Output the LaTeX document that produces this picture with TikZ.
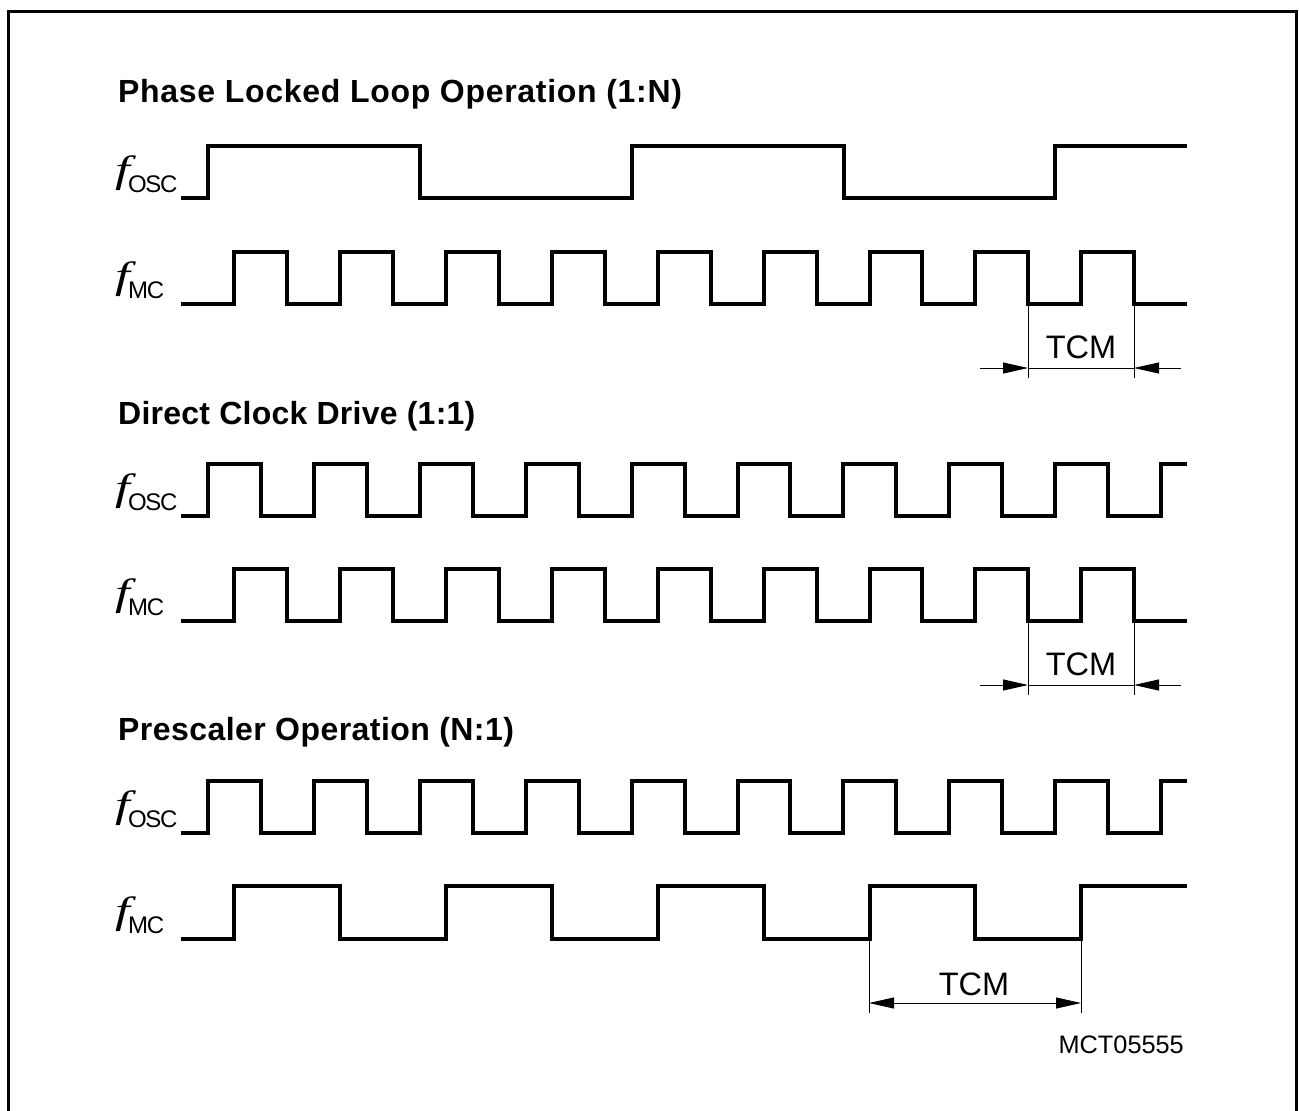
\documentclass[tikz,border=0pt]{standalone}
\usepackage{fontspec}
\usepackage{graphicx}
\setmainfont{Liberation Sans}
\newfontfamily\serifit[ItalicFont={Liberation Serif Italic}]{Liberation Serif}
\usetikzlibrary{arrows.meta}
\newcommand{\freqlabel}[1]{\makebox[15pt][l]{\hspace{2pt}\scalebox{1.4}[1]{\fontsize{38}{38}\selectfont\serifit\itshape f}}\raisebox{-10pt}{\fontsize{24}{24}\selectfont\addfontfeature{LetterSpace=-6}#1}}
\newcommand{\headtext}[2]{\addfontfeature{LetterSpace=#1}#2}
\tikzset{
  signal/.style={line width=3.2pt,line join=miter,line cap=butt},
  frameline/.style={line width=3pt},
  dimline/.style={line width=0.9pt,black},
  dimtip/.tip={Triangle[length=25pt,width=11pt]},
  heading/.style={anchor=base west,inner sep=0pt,font=\fontsize{32}{32}\selectfont\bfseries},
  freq/.style={anchor=base west,inner sep=0pt},
  dimtext/.style={anchor=base,inner sep=0pt,font=\fontsize{32.5}{32.5}\selectfont},
  figid/.style={anchor=base east,inner sep=0pt,font=\fontsize{25.3}{25.3}\selectfont}
}
\newcommand{\mcfast}[2]{\draw[signal] (181,#1) \foreach \a/\b in {234/287,340/393,446/499,552/605,658/711,764/817,870/922,975/1028,1081/1134}{ -- (\a,#1) -- (\a,#2) -- (\b,#2) -- (\b,#1)} -- (1187,#1);}
\newcommand{\oscfast}[2]{\draw[signal] (181,#1) \foreach \a/\b in {208/261,314/367,420/473,526/579,632/685,738/790,843/896,949/1002,1055/1108}{ -- (\a,#1) -- (\a,#2) -- (\b,#2) -- (\b,#1)} -- (1161,#1) -- (1161,#2) -- (1187,#2);}
\begin{document}
\begin{tikzpicture}[x=1pt,y=-1pt]
\useasboundingbox (0,0) rectangle (1299,1111);
\fill[white] (0,0) rectangle (1299,1111);
\draw[frameline] (8,1111) -- (8,11) -- (1296,11) -- (1296,1111);

\node[heading] (t1) at (118,102) {\headtext{2.2}{Phase Locked Loop Operation (1:N)}};
\node[heading] (t2) at (118,424) {\headtext{0.8}{Direct Clock Drive (1:1)}};
\node[heading] (t3) at (118,740) {\headtext{1.4}{Prescaler Operation (N:1)}};

\node[freq] (f1) at (113,182) {\freqlabel{OSC}};
\node[freq] (m1) at (113,288) {\freqlabel{MC}};
\node[freq] (f2) at (113,500) {\freqlabel{OSC}};
\node[freq] (m2) at (113,605) {\freqlabel{MC}};
\node[freq] (f3) at (113,817) {\freqlabel{OSC}};
\node[freq] (m3) at (113,923) {\freqlabel{MC}};

% Phase locked loop
\draw[signal] (181,198) -- (208,198) -- (208,146) -- (420,146) -- (420,198) -- (632,198) -- (632,146) -- (844,146) -- (844,198) -- (1055,198) -- (1055,146) -- (1187,146);
\mcfast{304}{252}
% Direct clock drive
\oscfast{516}{464}
\mcfast{621}{569}
% Prescaler
\oscfast{833}{781}
\draw[signal] (181,939) -- (234,939) -- (234,886) -- (340,886) -- (340,939) -- (446,939) -- (446,886) -- (552,886) -- (552,939) -- (658,939) -- (658,886) -- (764,886) -- (764,939) -- (870,939) -- (870,886) -- (975,886) -- (975,939) -- (1081,939) -- (1081,886) -- (1187,886);

% TCM dimension 1
\coordinate (a1t) at (1028,306); \coordinate (a1b) at (1028,378);
\coordinate (b1t) at (1134,306); \coordinate (b1b) at (1134,378);
\coordinate (a1m) at (1028,368); \coordinate (b1m) at (1134,368);
\coordinate (a1o) at (980,368);  \coordinate (b1o) at (1181,368);
\draw[dimline] (a1t) -- (a1b);
\draw[dimline] (b1t) -- (b1b);
\draw[dimline] (a1m) -- (b1m);
\draw[dimline,-dimtip] (a1o) -- (a1m);
\draw[dimline,-dimtip] (b1o) -- (b1m);
\node[dimtext] (tcm1) at (1081,358) {TCM};

% TCM dimension 2
\coordinate (a2t) at (1028,623); \coordinate (a2b) at (1028,695);
\coordinate (b2t) at (1134,623); \coordinate (b2b) at (1134,695);
\coordinate (a2m) at (1028,685); \coordinate (b2m) at (1134,685);
\coordinate (a2o) at (980,685);  \coordinate (b2o) at (1181,685);
\draw[dimline] (a2t) -- (a2b);
\draw[dimline] (b2t) -- (b2b);
\draw[dimline] (a2m) -- (b2m);
\draw[dimline,-dimtip] (a2o) -- (a2m);
\draw[dimline,-dimtip] (b2o) -- (b2m);
\node[dimtext] (tcm2) at (1081,675) {TCM};

% TCM dimension 3
\coordinate (a3t) at (869,941); \coordinate (a3b) at (869,1013);
\coordinate (b3t) at (1081,941); \coordinate (b3b) at (1081,1013);
\coordinate (a3m) at (869,1003); \coordinate (b3m) at (1081,1003);
\draw[dimline] (a3t) -- (a3b);
\draw[dimline] (b3t) -- (b3b);
\draw[dimline,dimtip-dimtip] (a3m) -- (b3m);
\node[dimtext] (tcm3) at (974,995) {TCM};

\node[figid] (id) at (1184,1053) {MCT05555};
\end{tikzpicture}
\end{document}
